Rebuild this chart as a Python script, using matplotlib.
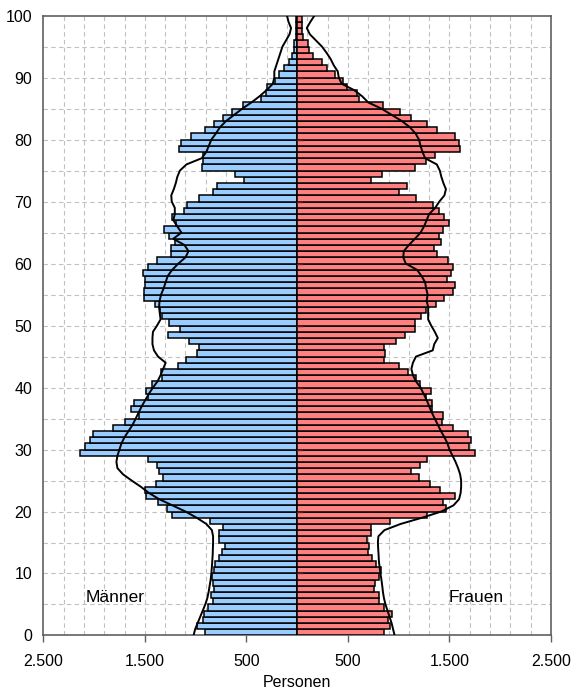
import numpy as np
import matplotlib
matplotlib.use("Agg")
import matplotlib.pyplot as plt
from matplotlib.ticker import FuncFormatter

plt.rcParams['font.family'] = ['Liberation Sans', 'DejaVu Sans']

# Altersjahre 0..99, Personen je Jahrgang
ages = np.arange(100)
maenner = [912, 987, 928, 918, 879, 830, 846, 823, 830, 835,
           820, 810, 770, 745, 715, 765, 770, 730, 855, 1230,
           1285, 1370, 1490, 1500, 1390, 1325, 1360, 1380, 1470, 2135,
           2090, 2040, 2015, 1810, 1695, 1555, 1640, 1605, 1470, 1485,
           1425, 1335, 1345, 1170, 1090, 990, 965, 1065, 1270, 1155,
           1265, 1330, 1355, 1400, 1510, 1510, 1500, 1500, 1515, 1470,
           1385, 1245, 1240, 1205, 1260, 1315, 1195, 1230, 1115, 1080,
           965, 825, 785, 525, 615, 935, 930, 925, 1160, 1140,
           1050, 905, 820, 735, 640, 530, 360, 310, 300, 220,
           180, 130, 80, 55, 35, 30, 15, 15, 10, 10]
frauen = [852, 915, 892, 934, 852, 803, 803, 761, 765, 805,
          825, 775, 735, 695, 705, 685, 730, 725, 915, 1275,
          1470, 1440, 1555, 1410, 1310, 1200, 1120, 1205, 1275, 1755,
          1695, 1715, 1680, 1535, 1430, 1435, 1330, 1330, 1265, 1315,
          1205, 1175, 1090, 1000, 855, 870, 855, 970, 1060, 1165,
          1165, 1220, 1270, 1365, 1450, 1535, 1550, 1475, 1515, 1535,
          1485, 1375, 1345, 1415, 1400, 1435, 1500, 1450, 1400, 1335,
          1175, 1000, 1085, 725, 835, 1160, 1270, 1355, 1600, 1595,
          1550, 1375, 1280, 1120, 1015, 845, 610, 590, 490, 450,
          370, 295, 240, 155, 120, 105, 55, 50, 45, 45]

# Vergleichsbevoelkerung (Linie), Alter 0..100
line_ages = np.arange(101)
maenner_vergl = [1020, 1005, 980, 955, 930, 905, 885, 872, 862, 852,
                 845, 840, 836, 832, 830, 828, 828, 840, 895, 990,
                 1100, 1230, 1360, 1460, 1540, 1630, 1715, 1770, 1780, 1770,
                 1750, 1730, 1700, 1660, 1620, 1590, 1560, 1530, 1495, 1460,
                 1420, 1375, 1345, 1320, 1295, 1370, 1410, 1425, 1425, 1420,
                 1380, 1345, 1353, 1360, 1355, 1340, 1315, 1295, 1275, 1230,
                 1170, 1100, 1070, 1110, 1220, 1140, 1180, 1220, 1205, 1205,
                 1235, 1240, 1215, 1195, 1180, 1155, 1090, 940, 895, 870,
                 845, 800, 760, 700, 620, 540, 450, 370, 300, 240,
                 225, 225, 205, 185, 165, 145, 110, 75, 60, 85, 100]
frauen_vergl = [960, 945, 930, 910, 890, 870, 855, 845, 838, 830,
                820, 812, 805, 802, 798, 795, 800, 860, 1020, 1230,
                1420, 1540, 1595, 1610, 1615, 1615, 1605, 1585, 1560, 1530,
                1500, 1480, 1450, 1415, 1385, 1355, 1325, 1300, 1275, 1245,
                1215, 1170, 1140, 1125, 1140, 1170, 1335, 1350, 1385, 1355,
                1320, 1290, 1290, 1290, 1275, 1285, 1270, 1260, 1225, 1180,
                1070, 1045, 1050, 1100, 1160, 1215, 1250, 1275, 1300, 1360,
                1400, 1450, 1465, 1440, 1420, 1405, 1375, 1260, 1235, 1215,
                1200, 1165, 1110, 1030, 930, 830, 700, 640, 560, 440,
                410, 400, 360, 330, 290, 245, 185, 125, 95, 130, 170]

fig = plt.figure(figsize=(5.72, 6.93), dpi=100)
ax = fig.add_axes([0.0757, 0.083, 0.8876, 0.8944])

blue = '#99CCFF'
red = '#FF8080'

ax.barh(ages + 0.5, -np.array(maenner), height=1, color=blue,
        edgecolor='black', linewidth=1.1, zorder=3)
ax.barh(ages + 0.5, frauen, height=1, color=red,
        edgecolor='black', linewidth=1.1, zorder=3)

ax.plot(-np.array(maenner_vergl), line_ages, color='black', lw=1.4, zorder=5)
ax.plot(frauen_vergl, line_ages, color='black', lw=1.4, zorder=5)

# kleine Striche an der Mittelachse
for a in range(10, 100, 10):
    ax.plot([0, 45], [a, a], color='#5a2020', lw=1.0, zorder=6)

ax.set_xlim(-2500, 2500)
ax.set_ylim(0, 100)

# Gitter
for gx in range(-2300, 2400, 200):
    ax.axvline(gx, color='#c0c0c0', lw=0.8, ls=(0, (4, 3)), zorder=1)
for gy in range(5, 100, 5):
    ax.axhline(gy, color='#c0c0c0', lw=0.8, ls=(0, (4, 3)), zorder=1)

ax.set_xticks([-2500, -1500, -500, 500, 1500, 2500])
ax.xaxis.set_major_formatter(FuncFormatter(
    lambda v, p: f"{abs(int(v)):,}".replace(',', '.')))
ax.set_yticks(range(0, 101, 10))
ax.tick_params(axis='x', direction='out', length=5, width=1,
               color='#606060', labelsize=11.5, pad=8)
ax.tick_params(axis='y', length=0, labelsize=11.5, pad=8)

for s in ax.spines.values():
    s.set_color('#606060')
    s.set_linewidth(1.2)

ax.set_xlabel('Personen', fontsize=11.5, labelpad=5)

ax.text(-1790, 6.2, 'Männer', fontsize=12.5, va='center', ha='center', zorder=7)
ax.text(1765, 6.2, 'Frauen', fontsize=12.5, va='center', ha='center', zorder=7)

fig.savefig('out.png', dpi=100)
